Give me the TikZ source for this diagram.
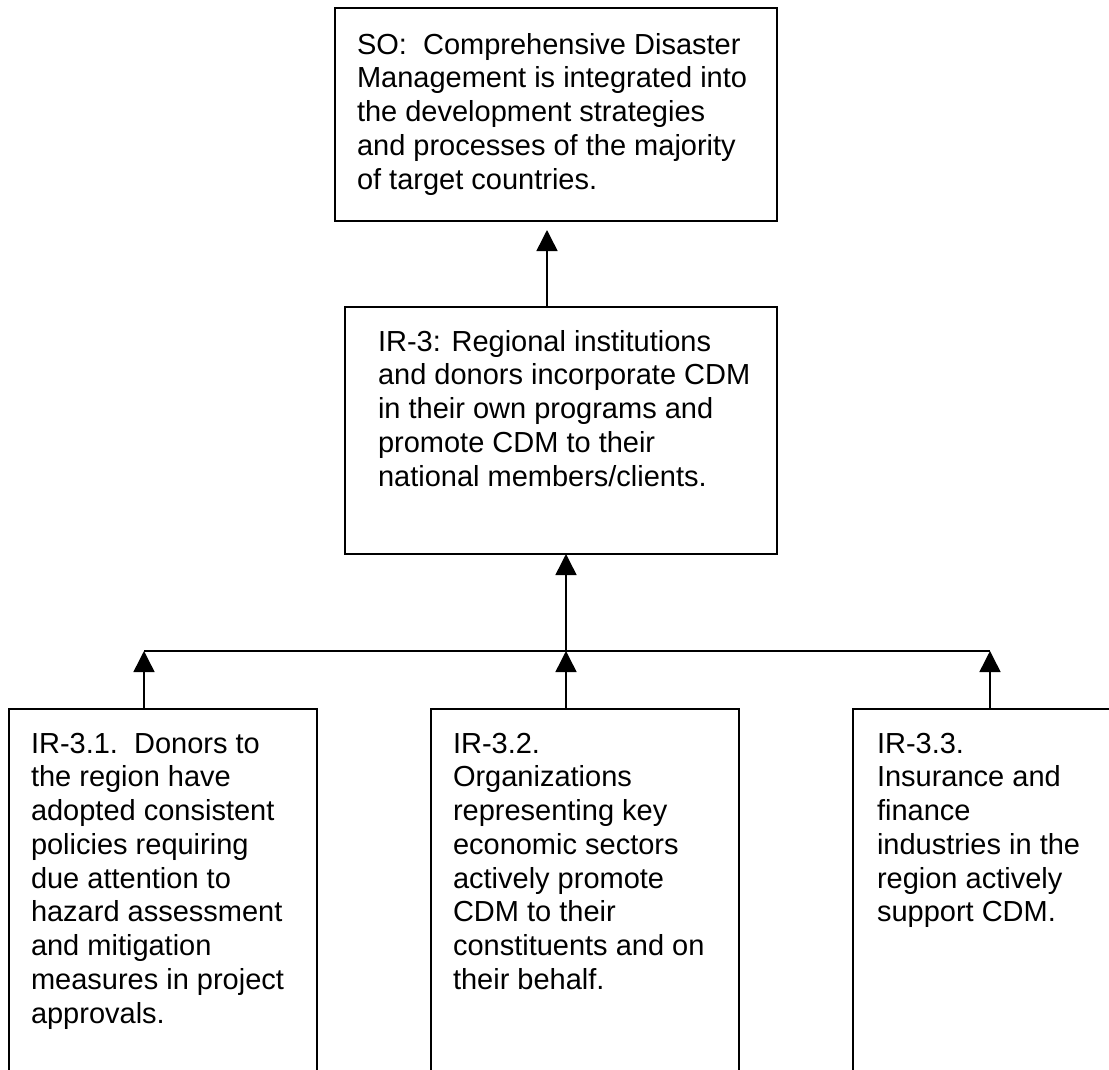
\documentclass[tikz,border=0pt]{standalone}
\usepackage{fontspec}
\setmainfont{Liberation Sans}
\usetikzlibrary{arrows.meta}
\newcommand\boxlines[1]{\vtop{\baselineskip=33.75pt\lineskiplimit=-100pt\lineskip=0pt\halign{##\hfil\cr #1\crcr}}}
\begin{document}
\begin{tikzpicture}[x=1pt,y=-1pt,
  frame/.style={draw=black,line width=1.5pt,rectangle,inner sep=0pt,outer sep=0pt},
  label/.style={anchor=base west,inner sep=0pt,outer sep=0pt,font=\fontsize{29}{33.75}\selectfont},
  arr/.style={draw=black,line width=1.5pt,-{Triangle[length=21pt,width=21pt]}},
  link/.style={draw=black,line width=1.5pt}]
\useasboundingbox (0,0) rectangle (1109,1069);
\clip (0,0) rectangle (1109,1069);
% boxes
\node[frame,minimum width=442pt,minimum height=213pt] (so) at (556,114.5) {};
\node[frame,minimum width=432pt,minimum height=247pt] (ir3) at (561,430.5) {};
\node[frame,minimum width=308pt,minimum height=400pt] (b1) at (163,909) {};
\node[frame,minimum width=308pt,minimum height=400pt] (b2) at (585,909) {};
\node[frame,minimum width=356pt,minimum height=400pt] (b3) at (1031,909) {};
% texts
\node[label] (tso) at (357,54) {\boxlines{SO:\ \ Comprehensive Disaster\cr Management is integrated into\cr the development strategies\cr and processes of the majority\cr of target countries.}};
\node[label] (tir3) at (378,351) {\boxlines{IR-3: Regional institutions\cr and donors incorporate CDM\cr in their own programs and\cr promote CDM to their\cr national members/clients.}};
\node[label] (tb1) at (31,753) {\boxlines{IR-3.1.\ \ Donors to\cr the region have\cr adopted consistent\cr policies requiring\cr due attention to\cr hazard assessment\cr and mitigation\cr measures in project\cr approvals.}};
\node[label] (tb2) at (453,753) {\boxlines{IR-3.2.\cr Organizations\cr representing key\cr economic sectors\cr actively promote\cr CDM to their\cr constituents and on\cr their behalf.}};
\node[label] (tb3) at (877,753) {\boxlines{IR-3.3.\cr Insurance and\cr finance\cr industries in the\cr region actively\cr support CDM.}};
% connectors
\coordinate (xs) at (547,0);
\coordinate (jl) at (144,651);
\coordinate (jm) at (566,651);
\coordinate (jr) at (990,651);
\draw[arr,shorten >=9pt] (ir3.north -| xs) -- (so.south -| xs);
\draw[link] (jl) -- (jr);
\draw[arr] (jm) -- (ir3.south -| jm);
\draw[arr] (b1.north -| jl) -- (jl);
\draw[arr] (b2.north -| jm) -- (jm);
\draw[arr] (b3.north -| jr) -- (jr);
\end{tikzpicture}
\end{document}
